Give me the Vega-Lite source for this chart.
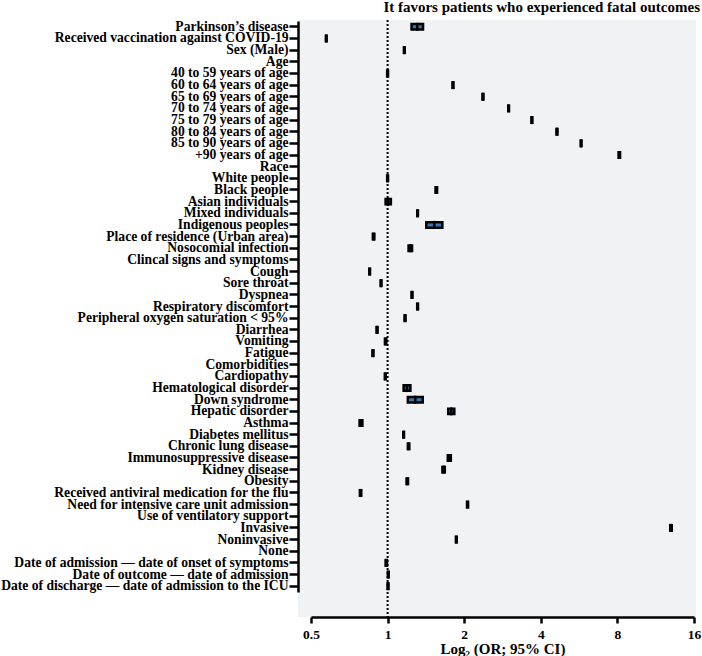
{
  "$schema": "https://vega.github.io/schema/vega-lite/v6.json",
  "width": 398,
  "height": 597,
  "autosize": {"type": "none"},
  "padding": {"left": 298, "top": 20, "right": 6, "bottom": 39},
  "background": "white",
  "title": {"text": "It favors patients who experienced fatal outcomes", "anchor": "end", "frame": "group", "font": "Liberation Serif", "fontSize": 15, "fontWeight": "bold", "color": "black", "offset": 4, "dx": 4},
  "config": {"view": {"fill": "#f1f2f4", "stroke": null}, "font": "Liberation Serif"},
  "datasets": {
    "rows": [
      {"label": "Parkinson’s disease", "lo": 1.242, "or": 1.308, "hi": 1.378},
      {"label": "Received vaccination against COVID-19", "lo": 0.572, "or": 0.574, "hi": 0.576},
      {"label": "Sex (Male)", "lo": 1.159, "or": 1.163, "hi": 1.168},
      {"label": "Age", "lo": null, "or": null, "hi": null},
      {"label": "40 to 59 years of age", "lo": 0.996, "or": 1.0, "hi": 1.004},
      {"label": "60 to 64 years of age", "lo": 1.8, "or": 1.807, "hi": 1.814},
      {"label": "65 to 69 years of age", "lo": 2.36, "or": 2.37, "hi": 2.38},
      {"label": "70 to 74 years of age", "lo": 2.98, "or": 2.99, "hi": 3.0},
      {"label": "75 to 79 years of age", "lo": 3.675, "or": 3.69, "hi": 3.705},
      {"label": "80 to 84 years of age", "lo": 4.61, "or": 4.63, "hi": 4.65},
      {"label": "85 to 90 years of age", "lo": 5.74, "or": 5.76, "hi": 5.78},
      {"label": "+90 years of age", "lo": 8.085, "or": 8.14, "hi": 8.195},
      {"label": "Race", "lo": null, "or": null, "hi": null},
      {"label": "White people", "lo": 0.996, "or": 1.0, "hi": 1.004},
      {"label": "Black people", "lo": 1.543, "or": 1.554, "hi": 1.565},
      {"label": "Asian individuals", "lo": 0.982, "or": 1.005, "hi": 1.03},
      {"label": "Mixed individuals", "lo": 1.308, "or": 1.312, "hi": 1.316},
      {"label": "Indigenous peoples", "lo": 1.419, "or": 1.526, "hi": 1.641},
      {"label": "Place of residence (Urban area)", "lo": 0.875, "or": 0.881, "hi": 0.887},
      {"label": "Nosocomial infection", "lo": 1.209, "or": 1.228, "hi": 1.248},
      {"label": "Clincal signs and symptoms", "lo": null, "or": null, "hi": null},
      {"label": "Cough", "lo": 0.847, "or": 0.85, "hi": 0.853},
      {"label": "Sore throat", "lo": 0.939, "or": 0.942, "hi": 0.946},
      {"label": "Dyspnea", "lo": 1.242, "or": 1.247, "hi": 1.252},
      {"label": "Respiratory discomfort", "lo": 1.307, "or": 1.312, "hi": 1.317},
      {"label": "Peripheral oxygen saturation < 95%", "lo": 1.166, "or": 1.171, "hi": 1.176},
      {"label": "Diarrhea", "lo": 0.905, "or": 0.909, "hi": 0.913},
      {"label": "Vomiting", "lo": 0.976, "or": 0.982, "hi": 0.988},
      {"label": "Fatigue", "lo": 0.872, "or": 0.876, "hi": 0.88},
      {"label": "Comorbidities", "lo": null, "or": null, "hi": null},
      {"label": "Cardiopathy", "lo": 0.975, "or": 0.979, "hi": 0.983},
      {"label": "Hematological disorder", "lo": 1.156, "or": 1.192, "hi": 1.229},
      {"label": "Down syndrome", "lo": 1.201, "or": 1.285, "hi": 1.374},
      {"label": "Hepatic disorder", "lo": 1.731, "or": 1.78, "hi": 1.829},
      {"label": "Asthma", "lo": 0.776, "or": 0.786, "hi": 0.796},
      {"label": "Diabetes mellitus", "lo": 1.152, "or": 1.156, "hi": 1.16},
      {"label": "Chronic lung disease", "lo": 1.201, "or": 1.209, "hi": 1.217},
      {"label": "Immunosuppressive disease", "lo": 1.724, "or": 1.748, "hi": 1.772},
      {"label": "Kidney disease", "lo": 1.642, "or": 1.66, "hi": 1.678},
      {"label": "Obesity", "lo": 1.187, "or": 1.195, "hi": 1.203},
      {"label": "Received antiviral medication for the flu", "lo": 0.778, "or": 0.783, "hi": 0.788},
      {"label": "Need for intensive care unit admission", "lo": 2.052, "or": 2.062, "hi": 2.072},
      {"label": "Use of ventilatory support", "lo": null, "or": null, "hi": null},
      {"label": "Invasive", "lo": 12.9, "or": 12.99, "hi": 13.08},
      {"label": "Noninvasive", "lo": 1.855, "or": 1.862, "hi": 1.869},
      {"label": "None", "lo": null, "or": null, "hi": null},
      {"label": "Date of admission — date of onset of symptoms", "lo": 0.982, "or": 0.988, "hi": 0.994},
      {"label": "Date of outcome — date of admission", "lo": 1.002, "or": 1.006, "hi": 1.01},
      {"label": "Date of discharge — date of admission to the ICU", "lo": 1.0, "or": 1.004, "hi": 1.008}
    ],
    "reference": [{"ref": 1}]
  },
  "layer": [
    {
      "data": {"name": "reference"},
      "mark": {"type": "rule", "color": "black", "strokeWidth": 2, "strokeDash": [2, 2]},
      "encoding": {
        "x": {"field": "ref", "type": "quantitative",
          "scale": {"type": "log", "base": 2, "domain": [0.5, 16], "range": [13, 396], "nice": false},
          "axis": {"values": [0.5, 1, 2, 4, 8, 16], "format": "~g", "title": "Log₂ (OR; 95% CI)", "grid": false,
            "domainColor": "black", "domainWidth": 2.5, "tickColor": "black", "tickWidth": 2.5, "tickSize": 6,
            "labelFont": "Liberation Serif", "labelFontSize": 13.5, "labelFontWeight": "bold", "labelColor": "black", "labelPadding": 4, "labelFlush": false,
            "titleFont": "Liberation Serif", "titleFontSize": 15, "titleFontWeight": "bold", "titleColor": "black", "titlePadding": 1}}
      }
    },
    {
      "data": {"name": "rows"},
      "mark": {"type": "rect", "fill": "#2f78b8", "stroke": "black", "strokeWidth": 2.5, "opacity": 1},
      "encoding": {
        "x": {"field": "lo", "type": "quantitative"},
        "x2": {"field": "hi"},
        "y": {"field": "label", "type": "nominal", "sort": null,
          "scale": {"domain": ["Parkinson’s disease", "Received vaccination against COVID-19", "Sex (Male)", "Age", "40 to 59 years of age", "60 to 64 years of age", "65 to 69 years of age", "70 to 74 years of age", "75 to 79 years of age", "80 to 84 years of age", "85 to 90 years of age", "+90 years of age", "Race", "White people", "Black people", "Asian individuals", "Mixed individuals", "Indigenous peoples", "Place of residence (Urban area)", "Nosocomial infection", "Clincal signs and symptoms", "Cough", "Sore throat", "Dyspnea", "Respiratory discomfort", "Peripheral oxygen saturation < 95%", "Diarrhea", "Vomiting", "Fatigue", "Comorbidities", "Cardiopathy", "Hematological disorder", "Down syndrome", "Hepatic disorder", "Asthma", "Diabetes mellitus", "Chronic lung disease", "Immunosuppressive disease", "Kidney disease", "Obesity", "Received antiviral medication for the flu", "Need for intensive care unit admission", "Use of ventilatory support", "Invasive", "Noninvasive", "None", "Date of admission — date of onset of symptoms", "Date of outcome — date of admission", "Date of discharge — date of admission to the ICU"],
            "range": [1, 572], "paddingInner": 0.53, "paddingOuter": 0.265},
          "axis": {"title": null, "labelFont": "Liberation Serif", "labelFontSize": 13.6, "labelFontWeight": "bold", "labelColor": "black",
            "labelPadding": 1, "tickSize": 9, "tickWidth": 2.5, "tickColor": "black", "domainColor": "black", "domainWidth": 2.5,
            "labelLimit": 400, "labelBound": false, "grid": false}}
      }
    },
    {
      "data": {"name": "rows"},
      "mark": {"type": "tick", "color": "black", "thickness": 2.5, "size": 8, "orient": "vertical", "opacity": 1},
      "encoding": {
        "x": {"field": "or", "type": "quantitative"},
        "y": {"field": "label", "type": "nominal", "sort": null}
      }
    }
  ]
}
